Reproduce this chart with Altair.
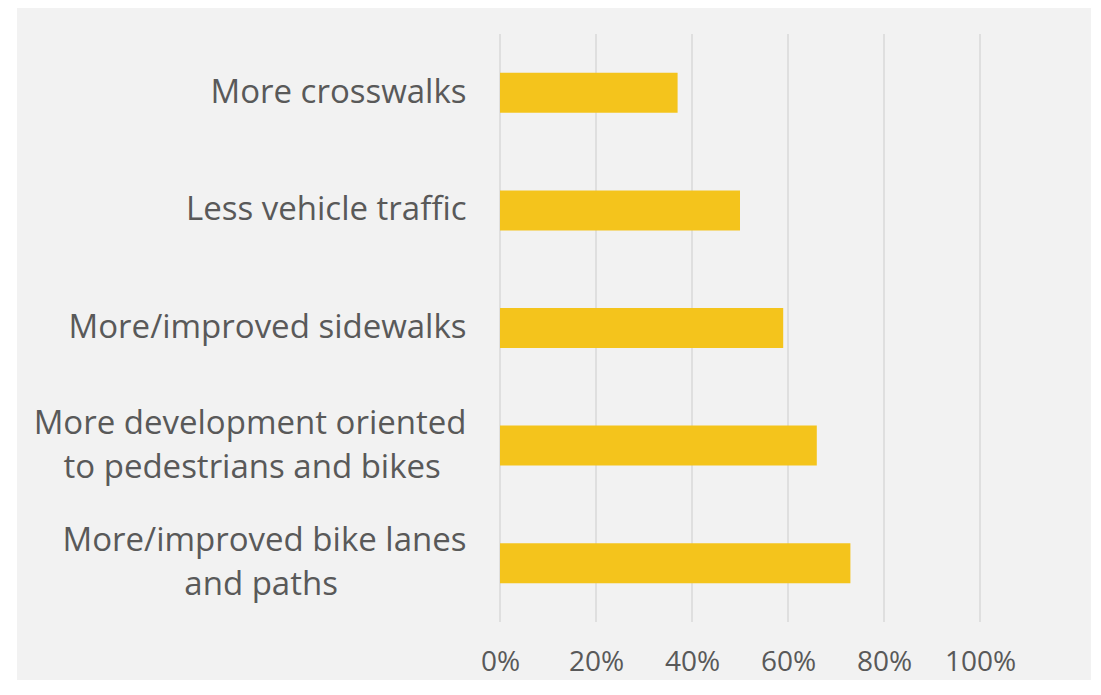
import altair as alt
import pandas as pd

PAD = "\u00a0"
END = "\u2060"

categories = [
    "More crosswalks",
    "Less vehicle traffic",
    "More/improved sidewalks",
    "More development oriented|to pedestrians and bikes" + PAD * 3 + END,
    "More/improved bike lanes|and paths" + PAD * 15 + END,
]
values = [0.37, 0.50, 0.59, 0.66, 0.73]
tick_values = [0, 0.2, 0.4, 0.6, 0.8, 1.0]

df = pd.DataFrame({"category": categories, "value": values})
grid_df = pd.DataFrame({"tick": tick_values})

FONT = "Open Sans"
TEXT = "#595959"
LH = 44

x_scale = alt.Scale(domain=[0, 1], nice=False)
x_axis = alt.Axis(
    title=None,
    format=".0%",
    values=tick_values,
    domain=False,
    ticks=False,
    grid=False,
    labelFont=FONT,
    labelFontSize=28,
    labelColor=TEXT,
    labelPadding=26,
    labelFlush=False,
    zindex=1,
)

bg = alt.Chart(pd.DataFrame({"k": [0]})).mark_rect(color="#f2f2f2").encode(
    x=alt.value(-483), x2=alt.value(591), y=alt.value(-26), y2=alt.value(646)
)

grid = alt.Chart(grid_df).mark_rule(color="#d9d9d9", strokeWidth=1.5).encode(
    x=alt.X("tick:Q", scale=x_scale, axis=x_axis),
    y=alt.value(0),
    y2=alt.value(588),
)

bars = alt.Chart(df).mark_bar(color="#F4C41C").encode(
    y=alt.Y(
        "category:N",
        sort=categories,
        scale=alt.Scale(paddingInner=0.66, paddingOuter=0.33),
        axis=alt.Axis(
            title=None,
            domain=False,
            ticks=False,
            labelExpr="split(datum.label, '|')",
            labelOffset=alt.ExprRef(f"indexof(datum.label, '|') >= 0 ? {-LH / 2} : 0"),
            labelFont=FONT,
            labelFontSize=33,
            labelColor=TEXT,
            labelPadding=34,
            labelLineHeight=LH,
            labelLimit=600,
            zindex=1,
        ),
    ),
    x=alt.X("value:Q", scale=x_scale, axis=x_axis),
)

chart = (
    alt.layer(bg, grid, bars)
    .properties(
        width=480,
        height=588,
        background="white",
        autosize=alt.AutoSizeParams(type="none"),
        padding={"left": 492, "top": 26, "right": 111, "bottom": 58},
    )
    .configure_view(stroke=None)
)

chart.save("out.html", embed_options={"renderer": "svg", "actions": False})
